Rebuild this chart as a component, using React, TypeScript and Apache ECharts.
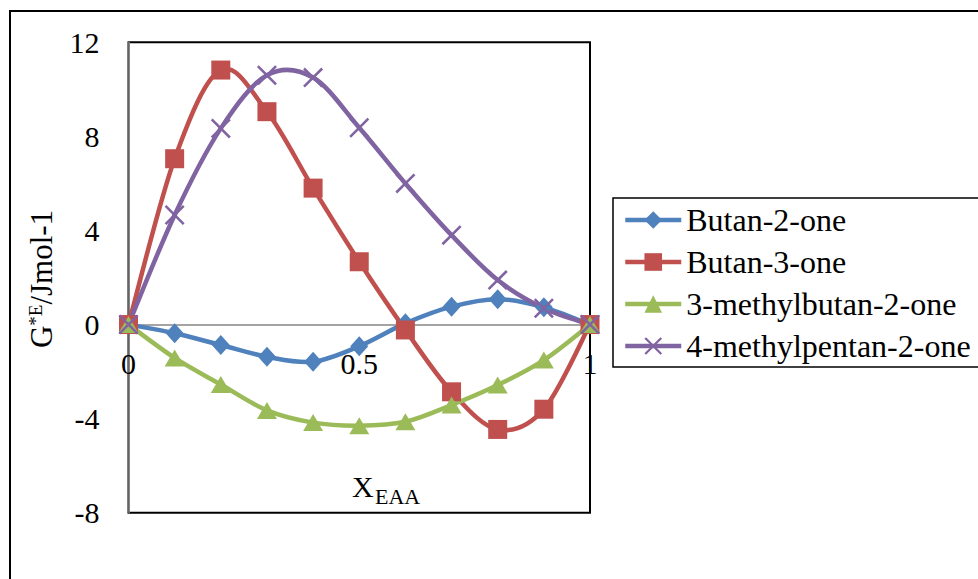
import React, { useEffect, useRef } from "react";
import * as echarts from "echarts";

const xValues = [0, 0.1, 0.2, 0.3, 0.4, 0.5, 0.6, 0.7, 0.8, 0.9, 1];
const seriesNames = ["Butan-2-one", "Butan-3-one", "3-methylbutan-2-one", "4-methylpentan-2-one"];
const butan2one = [0, -0.37, -0.87, -1.37, -1.58, -0.92, 0.05, 0.76, 1.08, 0.73, 0];
const butan3one = [0, 7.05, 10.82, 9.05, 5.8, 2.67, -0.23, -2.86, -4.46, -3.6, 0];
const methylbutan2one = [0, -1.42, -2.55, -3.65, -4.17, -4.3, -4.13, -3.42, -2.57, -1.51, 0];
const methylpentan2one = [0, 4.66, 8.34, 10.6, 10.5, 8.37, 6.0, 3.8, 1.89, 0.69, 0];
const yTicks = { min: -8, max: 12, interval: 4 };
const xTicks = { min: 0, max: 1, interval: 0.5 };

const colors = ["#4F81BD", "#C0504D", "#9BBB59", "#8064A2"];
const FONT = "Liberation Serif";
const crossPath = "path://M0,0.9 L0.9,0 L10,9.1 L9.1,10 Z M9.1,0 L10,0.9 L0.9,10 L0,9.1 Z";
const LINE_W = 4.5;

export default function App() {
  const ref = useRef<HTMLDivElement>(null);
  useEffect(() => {
    if (!ref.current) return;
    const chart = echarts.init(ref.current, null, { renderer: "svg" });
    const allValues = [butan2one, butan3one, methylbutan2one, methylpentan2one];
    const symbols = ["diamond", "rect", "triangle", crossPath];
    const sizes: any[] = [[18, 20], 19, [20, 17], 20];
    const gridTop = 42.3;
    const gridHeight = 470.4;
    const zeroOffset = -(gridHeight * (0 - yTicks.min)) / (yTicks.max - yTicks.min);

    const curveSeries = allValues.map((vals, i) => ({
      name: seriesNames[i] + " curve",
      type: "custom",
      z: 2,
      silent: true,
      data: vals.map((v, j) => [xValues[j], v]),
      renderItem: (params: any, api: any) => {
        const n = vals.length;
        const k = params.dataIndex;
        if (k >= n - 1) return null;
        const P = (m: number) => {
          const mm = Math.max(0, Math.min(n - 1, m));
          return api.coord([xValues[mm], vals[mm]]);
        };
        const p0 = P(k - 1), p1 = P(k), p2 = P(k + 1), p3 = P(k + 2);
        const t = 1 / 6;
        return {
          type: "bezierCurve",
          shape: {
            x1: p1[0], y1: p1[1], x2: p2[0], y2: p2[1],
            cpx1: p1[0] + (p2[0] - p0[0]) * t,
            cpy1: p1[1] + (p2[1] - p0[1]) * t,
            cpx2: p2[0] - (p3[0] - p1[0]) * t,
            cpy2: p2[1] - (p3[1] - p1[1]) * t,
          },
          style: { stroke: colors[i], lineWidth: LINE_W, fill: "none", lineCap: "round" },
        };
      },
    }));

    const markerSeries = allValues.map((vals, i) => ({
      name: seriesNames[i],
      type: "line",
      z: 3,
      data: vals.map((v, j) => [xValues[j], v]),
      symbol: symbols[i],
      symbolSize: sizes[i],
      showAllSymbol: true,
      lineStyle: { color: colors[i], width: LINE_W, opacity: 0 },
      itemStyle: { color: colors[i] },
    }));

    chart.setOption({
      animation: false,
      backgroundColor: "#fff",
      textStyle: { fontFamily: FONT, color: "#000" },
      grid: {
        left: 128.5,
        top: gridTop,
        width: 461.5,
        height: gridHeight,
        show: true,
        borderColor: "#000",
        borderWidth: 2,
        containLabel: false,
      },
      xAxis: {
        type: "value",
        min: xTicks.min,
        max: xTicks.max,
        interval: xTicks.interval,
        position: "bottom",
        offset: zeroOffset,
        axisLine: { onZero: false, lineStyle: { color: "#868686", width: 1.5 } },
        axisTick: { show: false },
        splitLine: { show: false },
        axisLabel: { color: "#000", fontFamily: FONT, fontSize: 30, margin: 24 },
      },
      yAxis: {
        type: "value",
        min: yTicks.min,
        max: yTicks.max,
        interval: yTicks.interval,
        axisLine: { show: true, onZero: false, lineStyle: { color: "#868686", width: 1.5 } },
        axisTick: { show: false },
        splitLine: { show: false },
        axisLabel: { color: "#000", fontFamily: FONT, fontSize: 30, margin: 29 },
      },
      legend: {
        orient: "vertical",
        left: 613,
        top: 198,
        padding: [6, 10, 5, 10],
        itemWidth: 56,
        itemHeight: 22,
        itemGap: 10,
        borderColor: "#000",
        borderWidth: 1.5,
        textStyle: { color: "#000", fontFamily: FONT, fontSize: 32, lineHeight: 32 },
        data: seriesNames.map((name, i) => ({
          name,
          lineStyle: { color: colors[i], width: LINE_W, opacity: 1 },
        })),
      },
      series: [...curveSeries, ...markerSeries],
      graphic: [
        {
          type: "rect",
          shape: { x: 10, y: 11, width: 1100, height: 700 },
          style: { fill: "none", stroke: "#000", lineWidth: 2 },
          silent: true,
        },
        {
          type: "text",
          x: 352,
          y: 486.7,
          style: { text: "X", fontFamily: FONT, fontSize: 30, fill: "#000", textAlign: "left", textVerticalAlign: "middle" },
        },
        {
          type: "text",
          x: 375,
          y: 496.6,
          style: { text: "EAA", fontFamily: FONT, fontSize: 22, fill: "#000", textAlign: "left", textVerticalAlign: "middle" },
        },
        {
          type: "text",
          x: 41.5,
          y: 279,
          rotation: Math.PI / 2,
          style: {
            text: "{a|G}{b|*E}{a|/Jmol-1}",
            textAlign: "center",
            textVerticalAlign: "middle",
            fill: "#000",
            rich: {
              a: { fontFamily: FONT, fontSize: 31, fill: "#000" },
              b: { fontFamily: FONT, fontSize: 19, verticalAlign: "top", fill: "#000" },
            },
          },
        },
      ],
    });
    return () => chart.dispose();
  }, []);
  return <div ref={ref} style={{ position: "absolute", left: 0, top: 0, width: 978, height: 579 }} />;
}
